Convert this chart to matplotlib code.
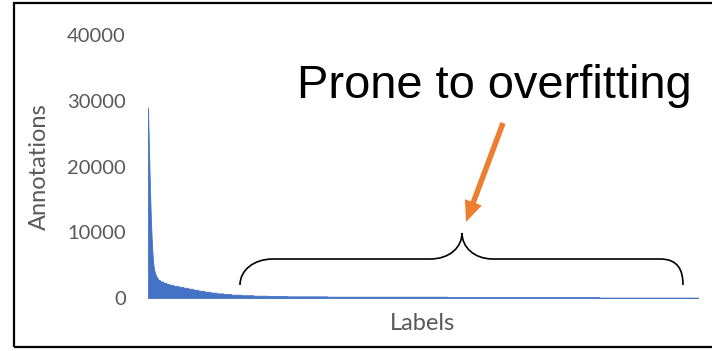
import numpy as np
import matplotlib.pyplot as plt
from matplotlib.path import Path
from matplotlib.patches import PathPatch, FancyArrow, Rectangle

# annotation counts per label, sorted descending, stored as (count, run length)
label_counts = [29000, 22500, 16400, 11400, 8000, 5600, 4400, 3800, 3400, 3100, 2900,
                2700, 2500, 2300, 2150, 2000, 1850, 1700, 1550, 1400, 1250, 1100,
                950, 820, 700, 600, 500, 420, 350, 300, 250, 200, 150, 60]
run_lengths = [1, 1, 1, 1, 1, 1, 1, 1, 1, 1, 1,
               2, 3, 3, 3, 4, 5, 5, 5, 5, 5, 6,
               6, 6, 7, 8, 10, 12, 14, 20, 40, 120, 152, 99]
y_ticks = [0, 10000, 20000, 30000, 40000]

counts = np.repeat(label_counts, run_lengths)
labels = np.arange(len(counts))

W, H = 712, 351
fig = plt.figure(figsize=(W / 100, H / 100), dpi=100)
fig.patch.set_facecolor('white')

ax = fig.add_axes([148 / W, 53 / H, 550 / W, 263 / H])
ax.fill_between(labels, counts, 0, color='#4472C4', lw=0.6, edgecolor='#4472C4')
ax.set_xlim(0, len(counts) - 1)
ax.set_ylim(0, 40000)
ax.set_yticks(y_ticks)
ax.set_yticklabels([str(v) for v in y_ticks], fontfamily='Lato', fontsize=14.5, color='#595959')
ax.set_xticks([])
ax.tick_params(axis='y', length=0, pad=16)
for s in ax.spines.values():
    s.set_visible(False)
ax.set_ylabel('Annotations', fontfamily='Lato', fontsize=17, color='#595959', labelpad=12)
ax.set_xlabel('Labels', fontfamily='Lato', fontsize=17, color='#595959', labelpad=11)

# overlay in pixel units for the brace, arrow and callout text
ov = fig.add_axes([0, 0, 1, 1], zorder=5)
ov.set_xlim(0, W)
ov.set_ylim(H, 0)
ov.axis('off')
ov.patch.set_alpha(0)

verts = [(240, 285), (240, 270), (254, 259), (273, 259),
         (430, 259),
         (450, 259), (462, 247), (462, 233),
         (462, 247), (474, 259), (493, 259),
         (660, 259),
         (678, 259), (683, 270), (683, 285)]
codes = [Path.MOVETO, Path.CURVE4, Path.CURVE4, Path.CURVE4,
         Path.LINETO,
         Path.CURVE4, Path.CURVE4, Path.CURVE4,
         Path.CURVE4, Path.CURVE4, Path.CURVE4,
         Path.LINETO,
         Path.CURVE4, Path.CURVE4, Path.CURVE4]
ov.add_patch(PathPatch(Path(verts, codes), fill=False, edgecolor='black', lw=1.2))

ov.add_patch(FancyArrow(503, 123, -37, 99, width=5.5, head_width=18, head_length=21,
                        length_includes_head=True, color='#ED7D31', lw=0))

ov.text(297, 98, 'Prone to overfitting', fontfamily='Liberation Sans', fontsize=33.8,
        color='black', va='baseline', ha='left')

fig.patches.append(Rectangle((14 / W, 4 / H), 720 / W, 344 / H, transform=fig.transFigure,
                             fill=False, edgecolor='black', lw=1.6))

fig.savefig('out.png', dpi=100)
